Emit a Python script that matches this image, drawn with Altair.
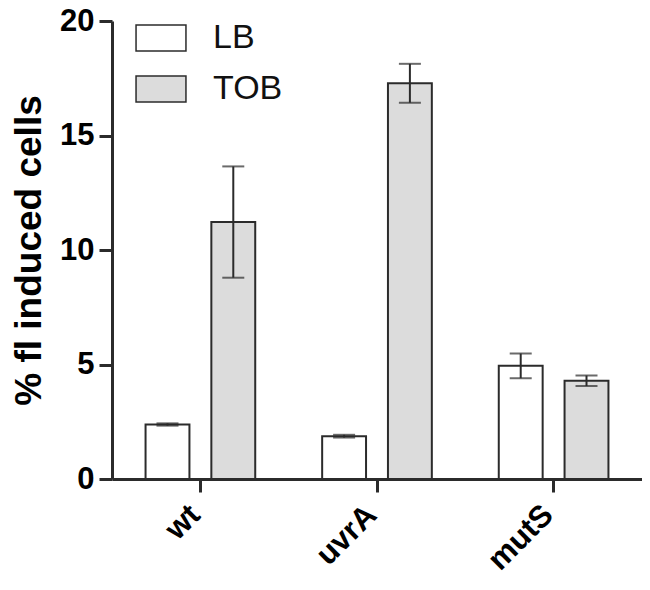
import altair as alt
import pandas as pd

strains = ["wt", "uvrA", "mutS"]
media = ["LB", "TOB"]
lb_mean = [2.38, 1.87, 4.94]
lb_err = [0.05, 0.06, 0.54]
tob_mean = [11.22, 17.28, 4.29]
tob_err = [2.43, 0.85, 0.23]

rows = []
for i, s in enumerate(strains):
    rows.append({"strain": s, "medium": "LB", "mean": lb_mean[i],
                 "lo": lb_mean[i] - lb_err[i], "hi": lb_mean[i] + lb_err[i]})
    rows.append({"strain": s, "medium": "TOB", "mean": tob_mean[i],
                 "lo": tob_mean[i] - tob_err[i], "hi": tob_mean[i] + tob_err[i]})
df = pd.DataFrame(rows)

FONT = "Liberation Sans"
DARK = "#2b2b2b"

x_enc = alt.X("strain:N", sort=strains,
              scale=alt.Scale(paddingInner=0.379, paddingOuter=0.19),
              axis=alt.Axis(title=None, labelAngle=-45, labelAlign="right", labelBaseline="middle",
                            labelFontSize=31, labelFontWeight="bold",
                            labelFont=FONT, labelColor="black", tickSize=13, tickWidth=3,
                            tickColor=DARK, domainWidth=3, domainColor=DARK,
                            labelPadding=18, labelOffset=-5))
xo_enc = alt.XOffset("medium:N", sort=media,
                     scale=alt.Scale(paddingInner=0.333, paddingOuter=0))

bars = alt.Chart(df).mark_bar(stroke=DARK, strokeWidth=2).encode(
    x=x_enc,
    xOffset=xo_enc,
    y=alt.Y("mean:Q", scale=alt.Scale(domain=[0, 20], nice=False),
            axis=alt.Axis(title="% fl induced cells", values=[0, 5, 10, 15, 20], grid=False,
                          labelFontSize=31, labelFontWeight="bold", labelFont=FONT,
                          labelColor="black", tickSize=13, tickWidth=3, tickColor=DARK,
                          domainWidth=3, domainColor=DARK, labelPadding=5,
                          titleFontSize=37, titleFont=FONT, titleFontWeight="bold",
                          titleColor="black", titlePadding=11)),
    color=alt.Color("medium:N", sort=media,
                    scale=alt.Scale(domain=media, range=["white", "#dcdcdc"]),
                    legend=alt.Legend(title=None, orient="none", legendX=22, legendY=-10,
                                      symbolType="M-0.96,-0.5H0.96V0.5H-0.96Z",
                                      symbolSize=2704, symbolStrokeColor=DARK,
                                      symbolStrokeWidth=1.5, labelFontSize=34,
                                      labelFont=FONT, labelColor="#111",
                                      labelOffset=25, rowPadding=7, padding=0)),
)

rule = alt.Chart(df).mark_rule(color=DARK, strokeWidth=2).encode(
    x=alt.X("strain:N", sort=strains), xOffset=alt.XOffset("medium:N", sort=media),
    y="lo:Q", y2="hi:Q")
cap_hi = alt.Chart(df).mark_tick(color=DARK, size=22, thickness=2).encode(
    x=alt.X("strain:N", sort=strains), xOffset=alt.XOffset("medium:N", sort=media),
    y="hi:Q")
cap_lo = alt.Chart(df).mark_tick(color=DARK, size=22, thickness=2).encode(
    x=alt.X("strain:N", sort=strains), xOffset=alt.XOffset("medium:N", sort=media),
    y="lo:Q")

chart = alt.layer(bars, rule, cap_hi, cap_lo).properties(
    width=530, height=458,
    autosize=alt.AutoSizeParams(type="none"),
    padding={"left": 104, "top": 13, "right": 0, "bottom": 97},
).configure(background="white", view=alt.ViewConfig(stroke=None))

chart.save("out.html", embed_options={"renderer": "svg", "actions": False})
